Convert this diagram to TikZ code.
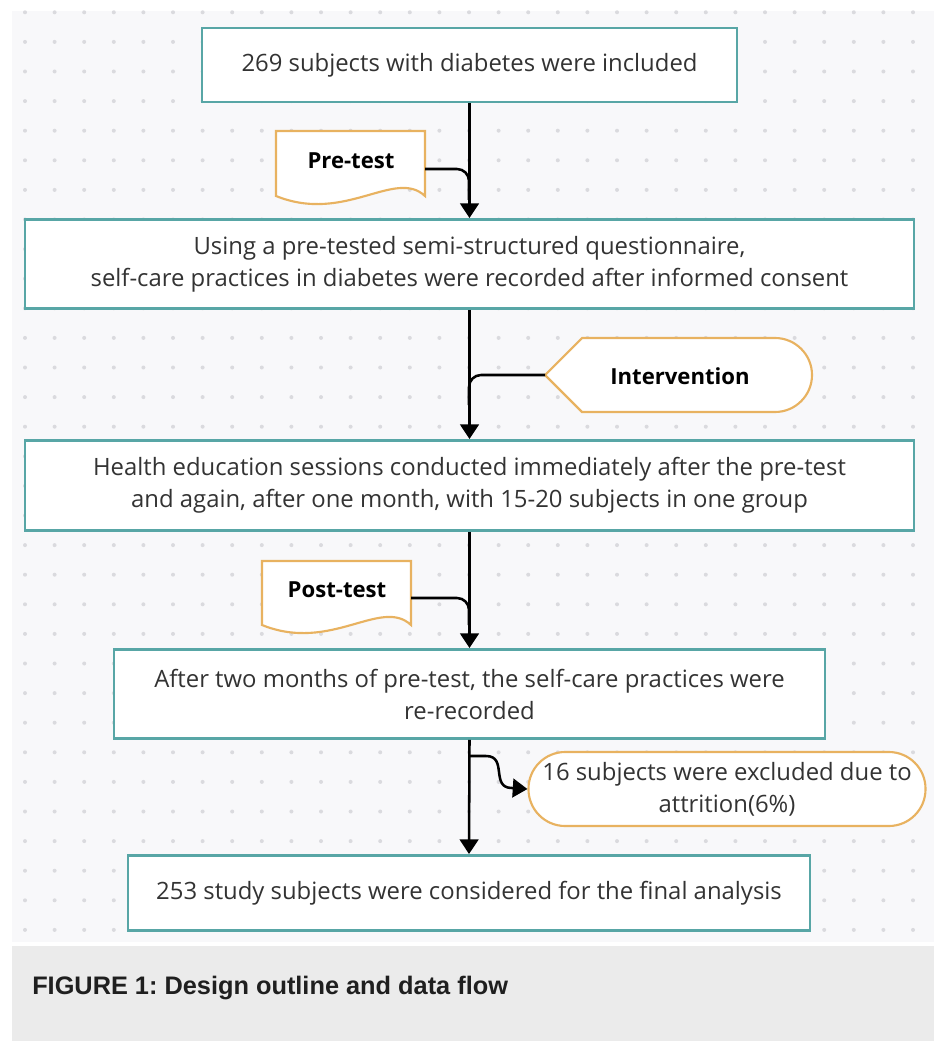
\documentclass[tikz,border=0pt]{standalone}
\usepackage{fontspec}
\setmainfont{Open Sans}
\newfontfamily\capfont{Liberation Sans}
\usetikzlibrary{arrows.meta}
\frenchspacing
\definecolor{areabg}{RGB}{248,248,250}
\definecolor{capbg}{RGB}{235,235,235}
\definecolor{dotc}{RGB}{218,218,222}
\definecolor{teal}{RGB}{88,166,166}
\definecolor{orng}{RGB}{232,178,96}
\definecolor{txt}{RGB}{51,51,51}
\tikzset{
  box/.style={draw=teal, line width=2.2pt, fill=white, rectangle, inner sep=0pt,
    align=center, text=txt, font=\fontsize{17.9}{24}\selectfont},
  side/.style={draw=orng, line width=1.6pt, fill=white},
  sidetext/.style={inner sep=0pt, text=black, font=\fontsize{16.6}{24}\selectfont\bfseries},
  conn/.style={draw=black, line width=1.9pt},
  arr/.style={conn, -{Triangle[width=14pt,length=11pt]}},
}
\begin{document}
\begin{tikzpicture}[x=0.75pt,y=-0.75pt]
\useasboundingbox (0,0) rectangle (934,1041);
\fill[white] (0,0) rectangle (934,1041);
% diagram area
\fill[areabg] (12,11) rectangle (934,942);
\begin{scope}
\clip (12,11) rectangle (934,942);
\foreach \i in {0,...,30}{
  \foreach \j in {0,...,31}{
    \fill[dotc] ({25+29.6*\i},{12.3+29.6*\j}) circle[radius=1.5pt];
  }
}
\end{scope}
% caption area
\fill[capbg] (12,946) rectangle (934,1041);
\node[anchor=west, inner sep=0pt, text=black!88, font=\capfont\fontsize{19}{22}\selectfont\bfseries] (cap) at (32,988) {FIGURE 1: Design outline and data flow};

% main boxes
\node[box, minimum width={535*0.75pt}, minimum height={74*0.75pt}] (b1) at (469.5,65) {269 subjects with diabetes were included};
\node[box, minimum width={889*0.75pt}, minimum height={89*0.75pt}] (b2) at (469.5,264) {Using a pre-tested semi-structured questionnaire,\\self-care practices in diabetes were recorded after informed consent};
\node[box, minimum width={889*0.75pt}, minimum height={90*0.75pt}] (b3) at (469.5,485.5) {Health education sessions conducted immediately after the pre-test\\and again, after one month, with 15-20 subjects in one group};
\node[box, minimum width={711*0.75pt}, minimum height={89*0.75pt}] (b4) at (469.5,694) {After two months of pre-test, the self-care practices were\\re-recorded};
\node[box, minimum width={682*0.75pt}, minimum height={75*0.75pt}] (b5) at (469,893) {253 study subjects were considered for the final analysis};

% Pre-test document shape
\draw[side] (276,131) -- (425,131) -- (425,196)
  .. controls (395,168) and (345,224) .. (276,196) -- cycle;
\node[sidetext] (pre) at (351,161) {Pre-test};
\coordinate (preR) at (425,169);

% Intervention display shape
\draw[side] (582,412) -- (545,375) -- (582,338) -- (775,338)
  arc[start angle=90, end angle=-90, radius=27.75pt] -- cycle;
\node[sidetext] (int) at (680,376) {Intervention};
\coordinate (intTip) at (545,375);

% Post-test document shape
\draw[side] (262,561) -- (411,561) -- (411,625)
  .. controls (381,597) and (331,653) .. (262,625) -- cycle;
\node[sidetext] (post) at (337,590) {Post-test};
\coordinate (postR) at (411,598);

% Excluded stadium
\node[box, draw=orng, line width=1.6pt, rounded corners=27.5pt, minimum width={397*0.75pt}, minimum height={74*0.75pt}] (exc) at (727,789) {16 subjects were excluded due to\\attrition(6\%)};

% connectors
\draw[arr] (b1.south) -- (b2.north);
\draw[arr] (b2.south) -- (b3.north);
\draw[arr] (b3.south) -- (b4.north);
\draw[arr] (b4.south) -- (b5.north);

\draw[conn, rounded corners=9pt] (preR) -- (469,169) -- (469,200);
\draw[conn, rounded corners=9pt] (intTip) -- (469,375) -- (469,405);
\draw[conn, rounded corners=9pt] (postR) -- (469,598) -- (469,625);

\coordinate (sp) at (469,756);
\draw[conn, -{Triangle[width=14pt,length=11pt]}] (sp) -- (486,756)
  .. controls (508,756) and (490,788) .. (512,788) -- (exc.west);
\end{tikzpicture}
\end{document}
